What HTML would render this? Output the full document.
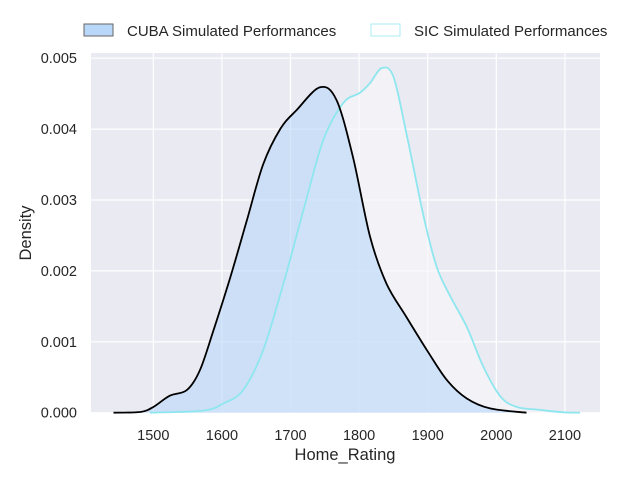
<!DOCTYPE html>
<html><head><meta charset="utf-8"><style>
body{margin:0;background:#fff;font-family:"Liberation Sans",sans-serif}
svg text{font-family:"Liberation Sans",sans-serif;fill:#262626}
</style></head><body>
<svg id="c" width="640" height="480">
<rect x="91" y="53" width="509" height="360" fill="#eaeaf2"/>
<g id="grid"></g><g id="marks"></g><g id="axes"></g>
<g>
<rect x="84" y="24" width="29" height="12" fill="#b9d7f9" stroke="#666" stroke-width="1"/>
<text x="127" y="36" font-size="15">CUBA Simulated Performances</text>
<rect x="371" y="24" width="29" height="12" fill="#ffffff" stroke="#a8ecf2" stroke-width="1"/>
<text x="414" y="36" font-size="15">SIC Simulated Performances</text>
</g>
<text x="345" y="460" font-size="16.5" text-anchor="middle">Home_Rating</text>
<text transform="translate(31,233) rotate(-90)" font-size="16.5" text-anchor="middle">Density</text>
</svg>
<script>
const xTicks=[1500,1600,1700,1800,1900,2000,2100];
const yTicks=[0,0.001,0.002,0.003,0.004,0.005];
const yTickLabels=["0.000","0.001","0.002","0.003","0.004","0.005"];
const cubaX=[1442,1481,1500,1524,1549,1568,1588,1612,1636,1660,1685,1709,1743,1767,1791,1816,1840,1869,1899,1928,1957,1991,2044];
const cubaY=[0,0.00001,0.00008,0.00024,0.00032,0.0006,0.00117,0.0019,0.0027,0.0035,0.004,0.00427,0.00459,0.00441,0.00361,0.00248,0.00182,0.00135,0.00088,0.00046,0.0002,0.00006,0];
const sicX=[1495,1573,1602,1631,1660,1690,1719,1748,1777,1801,1816,1833,1850,1869,1894,1913,1933,1957,1981,2006,2030,2064,2098,2122];
const sicY=[0,0.00003,0.00013,0.00032,0.00088,0.00183,0.00286,0.00385,0.00437,0.00451,0.00465,0.00486,0.00474,0.00394,0.00277,0.00206,0.00164,0.00121,0.00065,0.00023,0.00008,0.00004,0.000005,0];
const NS="http://www.w3.org/2000/svg";
const sx=v=>153.3+(v-1500)*0.686;
const sy=v=>412.7-v*70900;
function mk(t,a,p){const e=document.createElementNS(NS,t);for(const k in a)e.setAttribute(k,a[k]);document.getElementById(p).appendChild(e);return e;}
xTicks.forEach(t=>{
 const l=mk('line',{x1:sx(t),x2:sx(t),y1:53,y2:413,stroke:'#fff','stroke-width':1.2},'grid');
 
 
 const tx=mk('text',{x:sx(t),y:440,'font-size':14.5,'text-anchor':'middle'},'axes');tx.textContent=t;
 
 
});
yTicks.forEach((t,i)=>{
 const l=mk('line',{x1:91,x2:600,y1:sy(t),y2:sy(t),stroke:'#fff','stroke-width':1.2},'grid');
 
 
 const tx=mk('text',{x:77,y:sy(t)+5,'font-size':14.5,'text-anchor':'end'},'axes');tx.textContent=yTickLabels[i];
 
 
});
function path(xs,ys){
 const p=xs.map((x,i)=>[sx(x),sy(ys[i])]);
 let d='M'+p[0][0].toFixed(1)+','+p[0][1].toFixed(1);
 for(let i=0;i<p.length-1;i++){
  const p0=p[Math.max(i-1,0)],p1=p[i],p2=p[i+1],p3=p[Math.min(i+2,p.length-1)];
  const c1=[p1[0]+(p2[0]-p0[0])/6,p1[1]+(p2[1]-p0[1])/6];
  const c2=[p2[0]-(p3[0]-p1[0])/6,p2[1]-(p3[1]-p1[1])/6];
  d+='C'+c1[0].toFixed(1)+','+Math.min(c1[1],412.7).toFixed(1)+' '+c2[0].toFixed(1)+','+Math.min(c2[1],412.7).toFixed(1)+' '+p2[0].toFixed(1)+','+p2[1].toFixed(1);
 }
 return d;
}
function area(xs,ys){return path(xs,ys)+'L'+sx(xs[xs.length-1])+','+sy(0)+'L'+sx(xs[0])+','+sy(0)+'Z';}
const f2=mk('path',{d:area(sicX,sicY),fill:'#f6f6fa','fill-opacity':0.6},'marks');


const f1=mk('path',{d:area(cubaX,cubaY),fill:'#b9d7f9','fill-opacity':0.6},'marks');


const l2=mk('path',{d:path(sicX,sicY),fill:'none',stroke:'#8ee6ee','stroke-width':1.8,'stroke-linejoin':'round'},'marks');


const l1=mk('path',{d:path(cubaX,cubaY),fill:'none',stroke:'#000','stroke-width':1.8,'stroke-linejoin':'round'},'marks');


</script>
</body></html>
